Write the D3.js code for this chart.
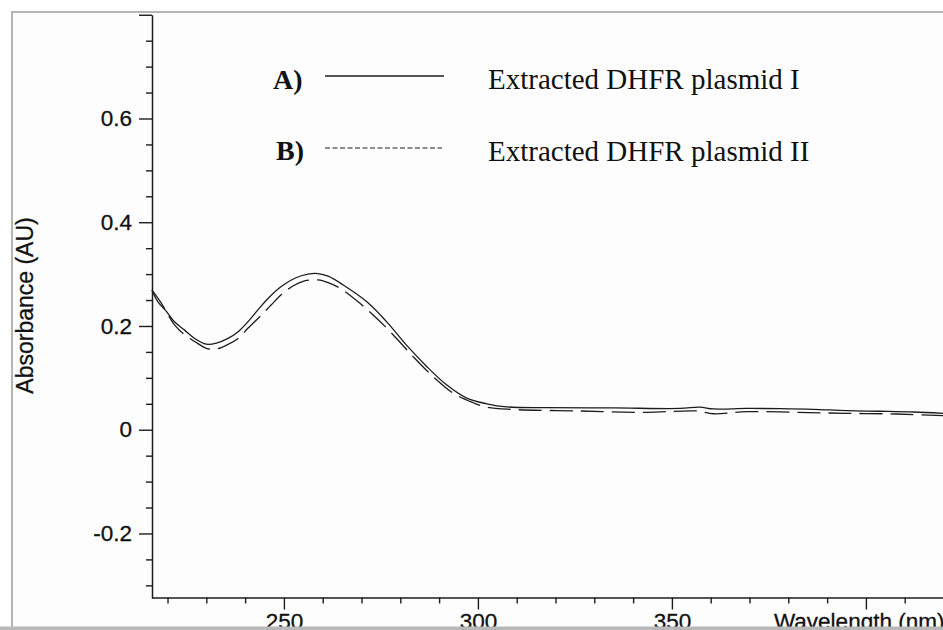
<!DOCTYPE html>
<html>
<head>
<meta charset="utf-8">
<script src="https://cdn.jsdelivr.net/npm/d3@7"></script>
<style>
  html, body { margin: 0; padding: 0; background: #ffffff; }
  svg { display: block; }
</style>
</head>
<body>
<svg id="chart" width="943" height="630"></svg>
<script>
// UV absorbance spectra of two extracted plasmid preparations
const wavelengthA = [216, 217.5, 219.7, 221.8, 224.4, 227, 230, 232.6, 235.6, 238.2, 240.7, 243.3, 245.9, 249.3,
  252.8, 256.2, 258.8, 261.4, 265.3, 271.3, 276.5, 281.6, 286.8, 292, 297.1, 302.3, 307.4, 317.7,
  334.9, 352.1, 357.2, 360.7, 369.3, 377.9, 386.4, 395, 403.6, 412.2, 420];
const absorbanceA = [0.269, 0.247, 0.228, 0.208, 0.192, 0.176, 0.165, 0.167, 0.176, 0.189, 0.208, 0.231, 0.253, 0.276,
  0.292, 0.300, 0.301, 0.296, 0.279, 0.247, 0.208, 0.163, 0.122, 0.086, 0.061, 0.050, 0.044, 0.0425,
  0.042, 0.041, 0.0435, 0.040, 0.041, 0.0406, 0.0394, 0.0367, 0.0356, 0.0342, 0.0316];

const wavelengthB = [216, 218.4, 221.8, 224.4, 227, 230, 232.2, 235.2, 238.2, 240.7, 244.2, 246.7, 249.3, 252.3,
  255.3, 258.8, 261.4, 264.5, 269.6, 273.9, 278.2, 283.3, 288.5, 293.7, 298.8, 302.3, 309.1,
  326.3, 343.5, 356.3, 360.7, 369.3, 382.2, 395, 407.9, 420];
const absorbanceB = [0.269, 0.244, 0.202, 0.183, 0.170, 0.157, 0.155, 0.163, 0.176, 0.1955, 0.221, 0.2405, 0.260, 0.277,
  0.287, 0.2887, 0.2835, 0.2727, 0.2437, 0.215, 0.1827, 0.141, 0.102, 0.070, 0.052, 0.0433, 0.039,
  0.0361, 0.0335, 0.0362, 0.0308, 0.0348, 0.0335, 0.0316, 0.0303, 0.027];

const xMajorTicks = [250, 300, 350, 400];
const xTickLabels = ["250", "300", "350", ""];
const xMinorTicks = [220, 230, 240, 260, 270, 280, 290, 310, 320, 330, 340, 360, 370, 380, 390, 410, 420];
const yMajorTicks = [-0.2, 0, 0.2, 0.4, 0.6, 0.8];
const yTickLabels = ["-0.2", "0", "0.2", "0.4", "0.6", ""];
const yMinorTicks = [-0.3, -0.25, -0.15, -0.1, -0.05, 0.05, 0.1, 0.15, 0.25, 0.3, 0.35, 0.45, 0.5, 0.55, 0.65, 0.7, 0.75];

const legendKeys = ["A)", "B)"];
const legendNames = ["Extracted DHFR plasmid I", "Extracted DHFR plasmid II"];
const xTitle = "Wavelength (nm)";
const yTitle = "Absorbance (AU)";

const svg = d3.select("#chart");
const sans = "'Liberation Sans', Arial, Helvetica, sans-serif";
const serif = "'Liberation Serif', 'Times New Roman', serif";
const ink = "#1c1c1c";

// page background
svg.append("rect").attr("x", 0).attr("y", 0).attr("width", 943).attr("height", 630).attr("fill", "#ffffff");
svg.append("rect").attr("x", 12).attr("y", 12).attr("width", 931).attr("height", 618).attr("fill", "#fdfdfd");

const x = d3.scaleLinear().domain([216, 420]).range([152, 943.5]);
const y = d3.scaleLinear().domain([-0.325, 0.8]).range([598.3, 14.75]);

const axisY = 597.5;
const axisX = 152;

// minor ticks
svg.append("g")
  .attr("transform", `translate(0,${axisY})`)
  .call(d3.axisBottom(x).tickValues(xMinorTicks).tickSize(6).tickFormat(""))
  .call(g => g.select(".domain").remove());
svg.append("g")
  .attr("transform", `translate(${axisX},0)`)
  .call(d3.axisLeft(y).tickValues(yMinorTicks).tickSize(6).tickFormat(""))
  .call(g => g.select(".domain").remove());

// major axes
svg.append("g")
  .attr("transform", `translate(0,${axisY})`)
  .call(d3.axisBottom(x).tickValues(xMajorTicks).tickSizeInner(12).tickSizeOuter(0).tickPadding(4)
    .tickFormat((d, i) => xTickLabels[i]));
svg.append("g")
  .attr("transform", `translate(${axisX},0)`)
  .call(d3.axisLeft(y).tickValues(yMajorTicks).tickSizeInner(13).tickSizeOuter(0).tickPadding(7)
    .tickFormat((d, i) => yTickLabels[i]));

svg.selectAll(".tick line").attr("stroke", ink).attr("stroke-width", 1.4);
svg.selectAll(".domain").attr("stroke", ink).attr("stroke-width", 1.5);
svg.selectAll(".tick text").attr("font-family", sans).attr("font-size", 22.5).attr("fill", "#111")
  .attr("stroke", "#111").attr("stroke-width", 0.3);

// axis titles
svg.append("text")
  .attr("x", x(376.3)).attr("y", 629)
  .attr("font-family", sans).attr("font-size", 22.5).attr("fill", "#111")
  .attr("stroke", "#111").attr("stroke-width", 0.3)
  .text(xTitle);
svg.append("text")
  .attr("transform", "translate(33,305.5) rotate(-90)")
  .attr("text-anchor", "middle")
  .attr("font-family", sans).attr("font-size", 23).attr("fill", "#111")
  .attr("stroke", "#111").attr("stroke-width", 0.3)
  .text(yTitle);

// spectra
const line = d3.line().x(d => x(d[0])).y(d => y(d[1])).curve(d3.curveCatmullRom.alpha(0.5));
const seriesA = wavelengthA.map((w, i) => [w, absorbanceA[i]]);
const seriesB = wavelengthB.map((w, i) => [w, absorbanceB[i]]);

svg.append("path").datum(seriesB).attr("d", line)
  .attr("fill", "none").attr("stroke", ink).attr("stroke-width", 1.3)
  .attr("stroke-dasharray", "23,8");
svg.append("path").datum(seriesA).attr("d", line)
  .attr("fill", "none").attr("stroke", ink).attr("stroke-width", 1.3);

// legend
const defs = svg.append("defs");
defs.append("filter").attr("id", "soft").attr("x", "-10%").attr("y", "-200%").attr("width", "120%").attr("height", "500%")
  .append("feGaussianBlur").attr("stdDeviation", 1.5);

const legendRows = [
  { key: legendKeys[0], name: legendNames[0], keyX: 273, baseline: 89, lineY: 76, dash: null },
  { key: legendKeys[1], name: legendNames[1], keyX: 276, baseline: 160, lineY: 148, dash: "5,2.5" }
];
const legend = svg.append("g");
legendRows.forEach(r => {
  legend.append("text").attr("x", r.keyX).attr("y", r.baseline)
    .attr("font-family", serif).attr("font-weight", "bold").attr("font-size", 28).attr("fill", "#111")
    .text(r.key);
  if (!r.dash) {
    legend.append("line").attr("x1", 326).attr("x2", 444).attr("y1", r.lineY + 2.5).attr("y2", r.lineY + 2.5)
      .attr("stroke", "#bdbdbd").attr("stroke-width", 2).attr("filter", "url(#soft)");
  }
  legend.append("line").attr("x1", 325).attr("x2", r.dash ? 442 : 444).attr("y1", r.lineY).attr("y2", r.lineY)
    .attr("stroke", ink).attr("stroke-width", r.dash ? 1 : 1.5)
    .attr("stroke-dasharray", r.dash);
  legend.append("text").attr("x", 488).attr("y", r.baseline + (r.dash ? 1 : 0))
    .attr("font-family", serif).attr("font-size", 29).attr("fill", "#111")
    .text(r.name);
});

// frame edges
svg.append("rect").attr("x", 11).attr("y", 11).attr("width", 2).attr("height", 619).attr("fill", "#b4b4b4");
svg.append("rect").attr("x", 11).attr("y", 11).attr("width", 932).attr("height", 2).attr("fill", "#b4b4b4");
svg.append("rect").attr("x", 0).attr("y", 626.5).attr("width", 943).attr("height", 3.5).attr("fill", "#b8b8b8");
</script>
</body>
</html>
